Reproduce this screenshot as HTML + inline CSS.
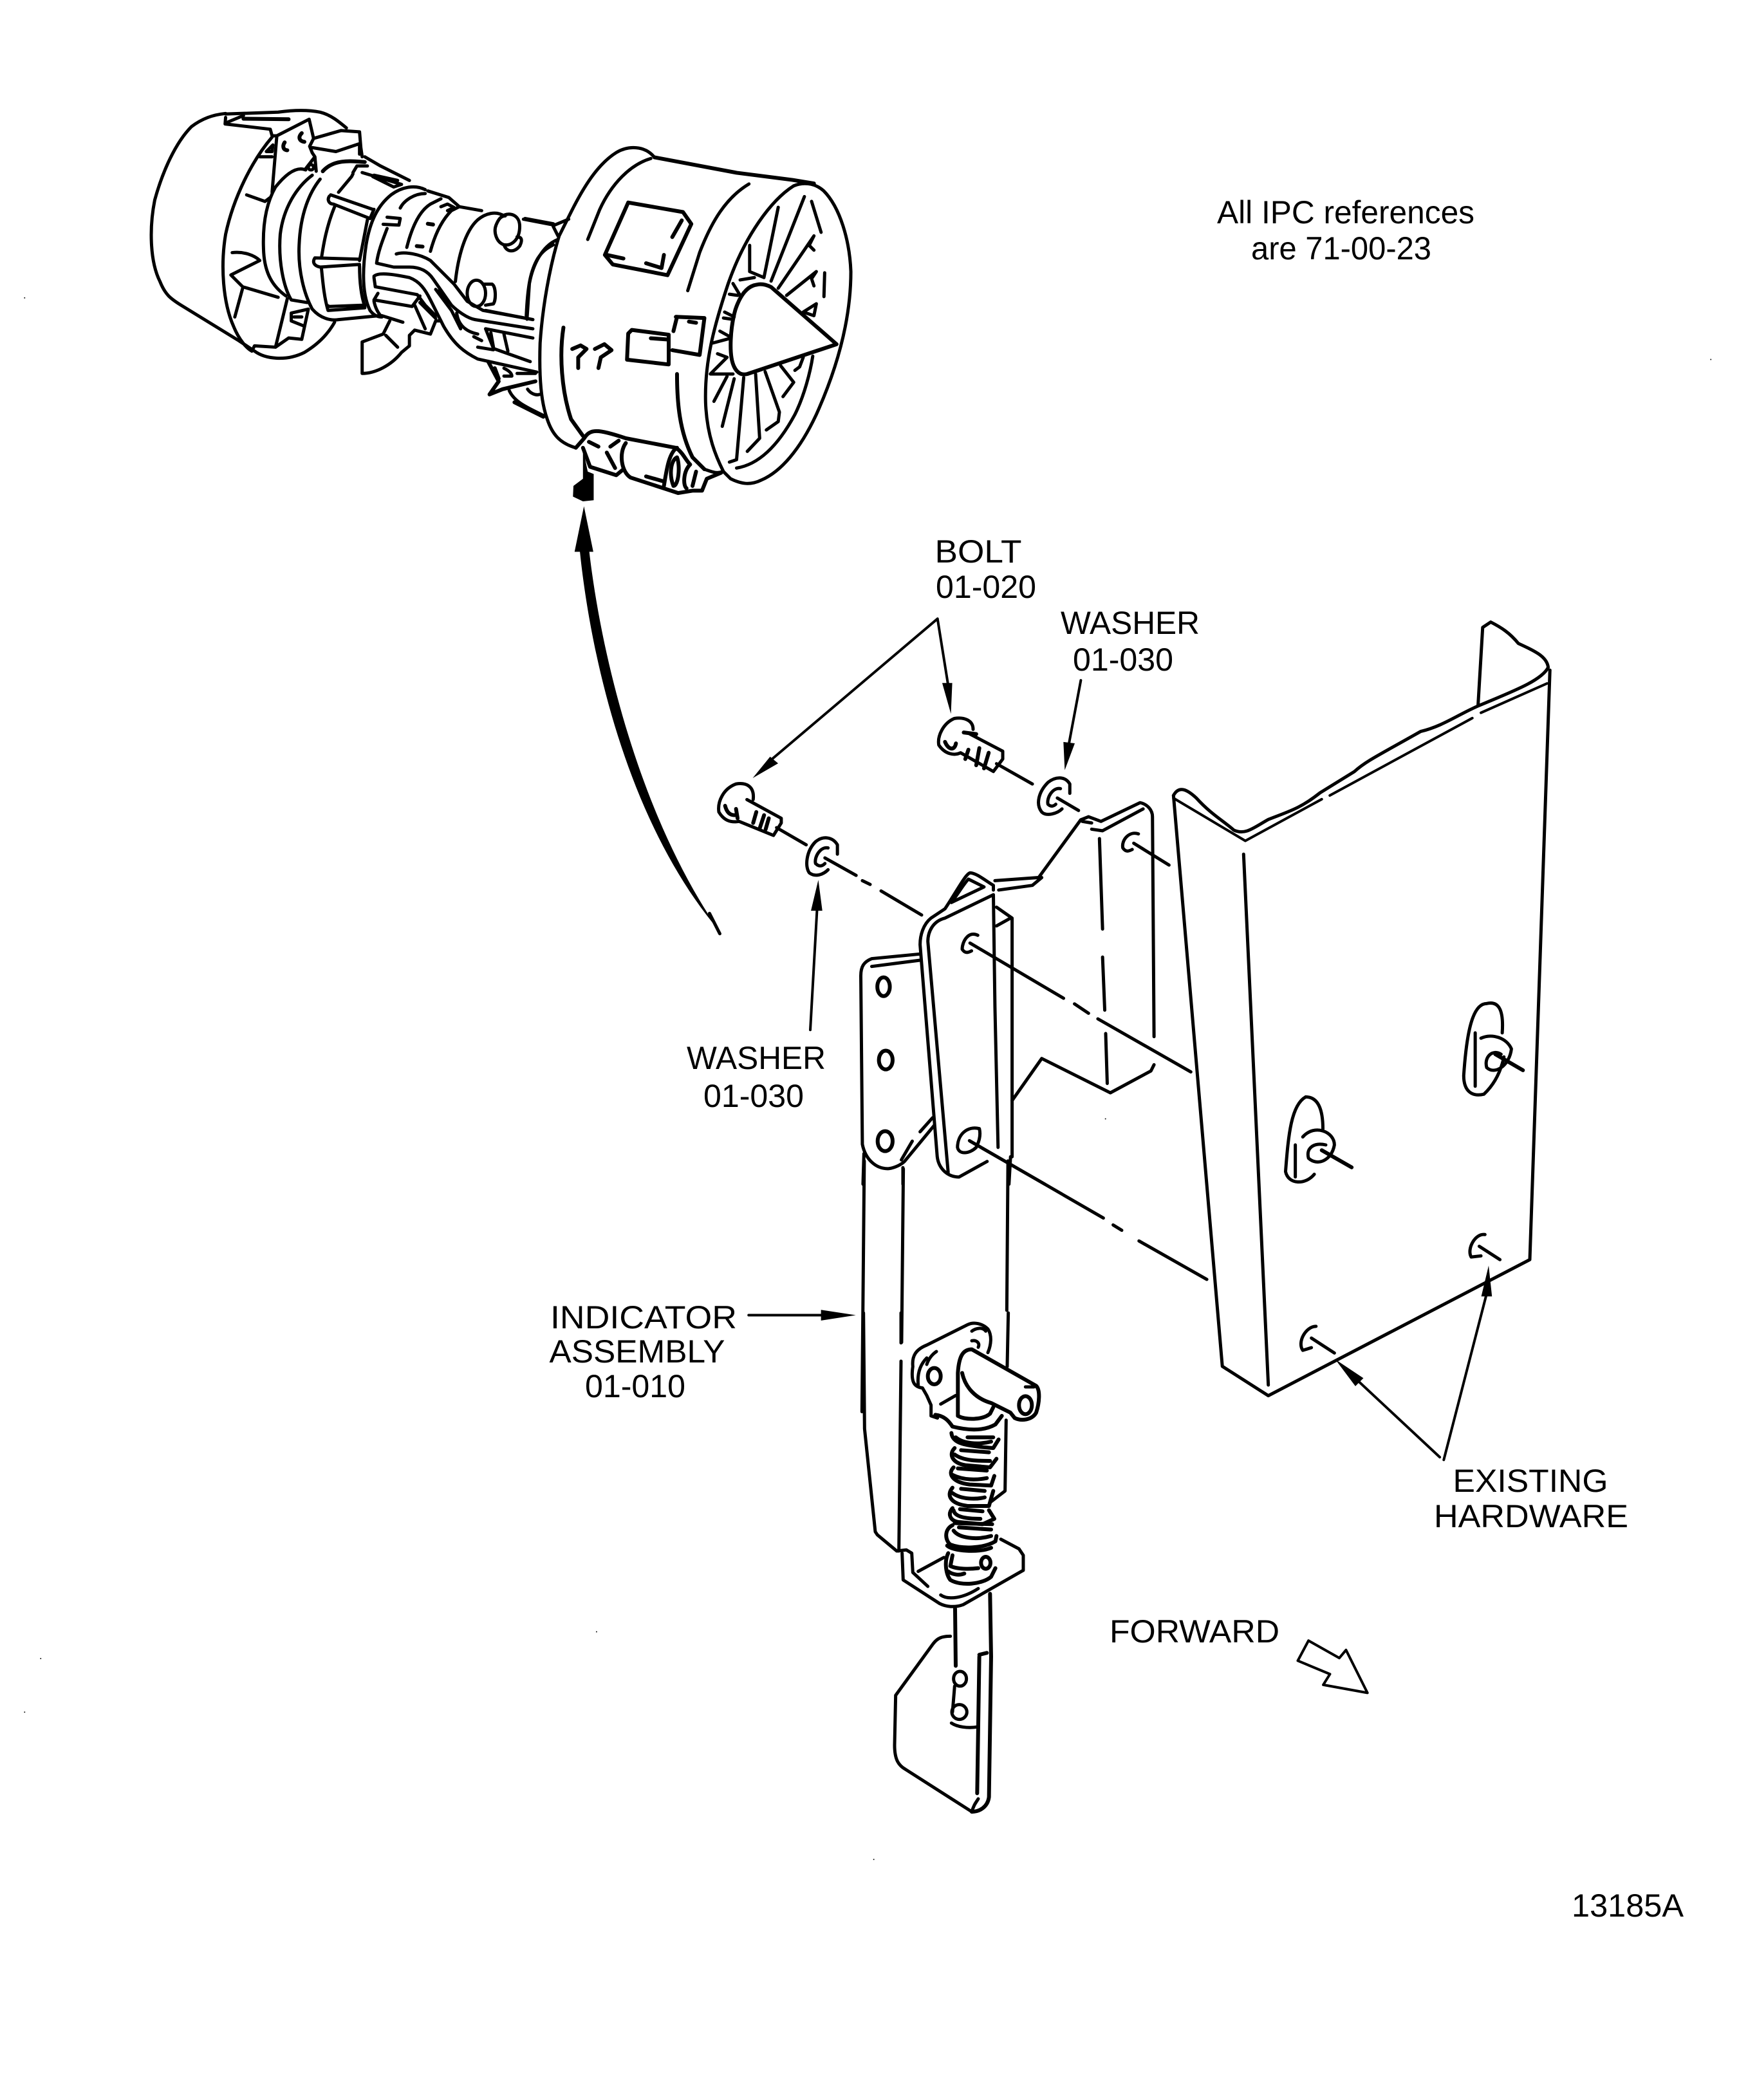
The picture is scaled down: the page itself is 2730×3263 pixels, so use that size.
<!DOCTYPE html>
<html><head><meta charset="utf-8"><style>
html,body{margin:0;padding:0;background:#fff}
svg{display:block}
path,line,ellipse,circle,polyline{fill:none;stroke:#000;stroke-width:5;vector-effect:non-scaling-stroke;stroke-linecap:round;stroke-linejoin:round}
.t{stroke-width:4}
.k{stroke-width:6}
path.f{fill:#000;stroke:none}
text{font-family:"Liberation Sans",sans-serif;font-size:50px;fill:#000;text-anchor:middle}
</style></head><body>
<svg width="2730" height="3263" viewBox="0 0 2730 3263" xmlns="http://www.w3.org/2000/svg">
<rect width="2730" height="3263" fill="#fff"/>

<!-- ENGINE REAR -->
<g transform="translate(220,160) scale(.408)">
<path d="M320,40C270,45 230,60 190,90C130,150 80,260 50,370C30,470 30,600 70,680C90,730 110,745 150,770L370,905L430,945C470,975 550,985 620,950C670,920 710,880 735,835"/>
<path d="M320,42L520,35C570,28 630,25 680,35C720,45 750,70 780,95"/>
<path d="M320,55L318,80L490,100L497,125L515,125L638,62L655,135M330,72L388,48"/>
<path class="k" d="M388,60L560,62M545,150C535,165 540,180 555,180M610,115C595,130 600,145 620,148"/>
<path d="M515,125L497,340M655,135L760,105L830,110L835,170L840,205M650,170L740,185L830,155L830,195M655,135L640,165L650,190L660,205L625,250M660,205L665,260"/>
<path d="M497,130C420,220 350,360 320,500C300,620 310,760 350,850C370,900 400,935 420,945"/>
<path d="M475,185L500,160L497,185ZM450,205L497,205"/>
<path d="M400,350L470,375L490,360M345,570C390,565 430,580 450,600L340,655L385,700L520,740M385,705L355,815M555,745L510,930L430,925L420,945M510,930L560,895L610,900L635,785L570,800L570,830L620,850M580,815L610,815"/>
<circle cx="645" cy="245" r="10"/>
<path d="M625,255C590,240 550,270 510,320C470,390 460,480 465,570C470,650 500,700 550,735"/>
<path d="M650,275C590,320 540,400 528,500C520,600 540,700 570,750L630,760"/>
<path class="k" d="M690,260C730,215 790,220 850,225"/>
<path d="M680,290C640,340 605,420 600,540C595,640 620,730 650,785C680,820 720,830 750,825L905,810"/>
<path d="M850,205L910,240L1020,295M805,265L820,240L860,240M805,270L800,280L750,340M840,265L990,310L960,320L880,280M885,275L975,295"/>
<path d="M720,350L880,405M715,355C705,370 715,385 730,385L870,440L885,405M735,395C700,480 690,560 685,590M860,445L830,600"/>
<path d="M660,590L830,595M660,590C650,605 655,620 680,625L830,615M685,630C690,680 695,740 710,790L850,780L850,770L715,775L705,770M830,620C830,680 835,730 850,775"/>
<path d="M1080,330C1040,310 990,320 950,350C900,390 870,450 855,540C840,640 840,730 870,790C885,810 900,815 915,815"/>
<path d="M985,400C1000,370 1040,345 1080,345M1010,550C1030,470 1060,410 1100,385L1140,365M1100,565C1120,490 1150,440 1180,410L1210,395L1295,410M1090,335L1170,360L1210,395M1140,395L1165,385L1190,398L1165,410"/>
<path class="k" d="M1090,460L1110,463M1048,545L1070,547"/>
<path d="M935,435L985,440L980,465L920,462M935,478C915,530 900,570 895,610L960,625L1020,625C1060,625 1090,640 1110,670L1180,770C1200,790 1240,820 1270,825L1490,860"/>
<path d="M970,575C1000,565 1060,575 1100,600L1190,690L1240,755L1300,790L1490,825"/>
<path d="M885,660C900,645 950,650 1020,665C1060,680 1080,710 1100,750L1150,850C1190,920 1230,950 1280,975L1505,1025"/>
<path d="M885,665L890,700L1050,730L1080,770L1120,810M900,725L885,750L1030,775L1060,735M885,755C890,780 900,800 915,815"/>
<path d="M1120,710L1180,790L1215,860M1135,710L1165,770M1200,800C1205,840 1230,870 1280,880M1265,890L1295,905M1310,860L1340,935L1480,985M1330,875L1340,930M1380,880L1395,945M1310,860L1490,895M1280,930L1340,940"/>
<path d="M915,810L995,835M945,830L920,880L840,910L840,1030C890,1030 950,1000 990,950L1020,925L1020,885L1040,865L1100,880L1120,830L1140,830M1040,770L1080,860M1060,760L1120,820M930,885L975,930"/>
<path class="k" d="M1320,985L1360,1060L1325,1110L1375,1090L1500,1060M1420,1140L1530,1195M1345,1010L1360,1050"/>
<path d="M1380,1010C1400,1020 1410,1030 1410,1040L1380,1040M1400,1095C1420,1140 1470,1160 1530,1190M1470,1090C1480,1105 1500,1115 1515,1110M1430,1030L1500,1030"/>
<path d="M1380,430C1350,410 1310,420 1280,445C1230,490 1205,590 1195,680"/>
<path d="M1375,430C1400,415 1440,425 1440,470C1440,520 1410,545 1380,540C1350,530 1340,490 1350,465C1360,440 1370,430 1385,430M1380,540C1390,570 1420,570 1440,545C1450,525 1450,510 1430,510"/>
<ellipse cx="1275" cy="725" rx="35" ry="50"/>
<path d="M1300,690L1335,690C1350,700 1350,750 1340,765L1310,770M1310,790L1490,825M1465,810C1470,700 1480,640 1510,590C1530,560 1550,550 1568,540M1460,440L1568,460"/>
</g>

<!-- ENGINE FRONT -->
<g transform="translate(780,200) scale(.37)">
<path d="M640,120C600,70 530,70 480,100C400,150 340,250 290,350L240,450C200,580 170,750 160,900C155,1050 165,1150 190,1220C210,1280 240,1320 310,1340"/>
<path d="M625,125C540,150 460,230 410,340L360,465"/>
<path class="k" d="M640,120L985,185L1220,215L1310,230"/>
<path d="M1225,240C1260,225 1310,225 1350,260C1420,330 1460,470 1465,600C1465,800 1410,1000 1320,1200C1250,1350 1170,1440 1090,1475C1040,1500 1000,1490 960,1470L930,1440"/>
<path d="M1225,240C1130,300 1020,450 950,650C890,830 850,980 855,1150C860,1290 900,1380 930,1440"/>
<path d="M1037,232C940,290 880,390 830,520L780,680"/>
<path class="k" d="M258,835C240,950 250,1100 290,1220L340,1290M735,1030C735,1150 745,1270 800,1380L850,1430"/>
<path d="M850,1430C880,1440 900,1450 925,1440M985,1425C1080,1410 1160,1330 1230,1200C1270,1120 1295,1020 1305,955"/>
<path class="k" d="M530,310L760,350L795,400L695,615L465,570L432,530ZM755,385L715,455M440,530L510,545M605,565L670,585L680,530"/>
<path class="k" d="M545,845L700,865L700,990L525,970L530,860ZM730,790L850,795L830,950L715,930M720,850L735,790M625,880L695,885M785,810L815,815"/>
<path class="k" d="M295,925L330,910L355,925L320,960L320,1005M390,925L430,905L460,930L415,960L405,1005"/>
<path d="M90,380L220,405L280,380M215,410L235,450M235,465C170,490 130,570 115,650L105,800"/>
<!-- blades -->
<path d="M1040,490L1040,600L1100,625M1160,330L1100,625M1270,285L1130,640M1300,305L1340,435M1310,450L1160,670M1310,450L1290,490L1310,510M1320,600L1195,700M1320,600L1300,630L1310,660M1355,605L1352,705M1320,735L1265,770L1310,785L1320,735"/>
<path class="k" d="M1070,655C1030,660 1000,700 980,760C960,830 950,950 975,1000C990,1030 1010,1035 1030,1030L1405,905L1130,665C1110,655 1090,650 1070,655Z"/>
<path d="M1000,635L1060,625M970,650L1000,700M955,695L990,700M935,770L975,790M930,795L965,800M915,850L960,875M885,900L960,880M905,945L945,960L875,1030L970,1030"/>
<path d="M945,1040L890,1145M975,1050L925,1250M1015,1045L985,1390L955,1400M1065,1030L1082,1300L1030,1355M1105,1020L1165,1190L1160,1230L1110,1265M1170,995L1225,1065L1180,1125M1265,960L1250,1000L1230,1015"/>
<!-- bottom box -->
<path class="k" d="M310,1340L345,1300C370,1260 400,1260 520,1300L730,1340C760,1360 770,1390 790,1410M340,1340L370,1420L480,1455L510,1430M365,1315L405,1335M455,1335L490,1310M440,1360L475,1425"/>
<path class="k" d="M520,1320C490,1360 500,1440 540,1465L740,1530L800,1520L840,1520L860,1470L920,1445M735,1340C700,1360 690,1440 680,1500M605,1460L675,1480M735,1380C710,1390 700,1450 720,1500C740,1500 750,1420 735,1380M790,1410C760,1440 760,1500 775,1510M815,1440L800,1500"/>
<path class="f" d="M340,1345L340,1470L300,1500L298,1545L340,1565L385,1560L385,1450L360,1440Z"/>
</g>

<!-- CHANNEL -->
<g transform="translate(1100,950) scale(.893,.829)">
<path d="M810,345L895,1415L975,1470L1430,1215L1465,110"/>
<path d="M810,345C820,325 835,335 850,350C875,380 900,395 915,410C935,420 950,405 975,390C1010,375 1030,370 1065,340L1125,300C1145,280 1175,265 1240,225C1280,215 1310,190 1345,175C1400,150 1450,130 1462,105C1460,85 1440,75 1410,60C1395,40 1380,30 1362,20L1348,30L1340,175"/>
<path class="t" d="M810,350L935,430L1068,352M1082,345L1330,200M1345,190L1460,135"/>
<path d="M932,455L975,1450"/>
<path d="M1355,735C1330,735 1320,790 1315,870C1315,900 1330,910 1350,905C1370,885 1380,860 1385,835M1355,735C1375,730 1385,745 1382,790M1335,790L1335,890M1345,800C1365,790 1390,800 1398,820C1395,850 1370,870 1355,855C1350,835 1365,820 1380,830"/>
<path d="M1040,910C1015,925 1010,980 1005,1050C1010,1075 1040,1075 1055,1055M1040,910C1060,910 1070,930 1070,970M1022,1000L1022,1060M1035,985C1055,960 1090,975 1090,1000C1085,1030 1060,1040 1045,1025C1040,1005 1055,995 1075,1000"/>
<path class="k" d="M1068,1010L1120,1042M1370,830L1418,860"/>
<path d="M1352,1168C1335,1165 1320,1195 1328,1210L1345,1208M1342,1190L1378,1215"/>
<path d="M1058,1340C1040,1340 1025,1370 1035,1385L1050,1380M1050,1362L1090,1390"/>
<path d="M455,992L688,1137M705,1150L720,1160M750,1180L868,1252"/>
<path d="M272,1030L268,1500M340,1045L337,1370M522,1030L520,1310"/>
</g>

<!-- BRACKET / BOLTS -->
<g transform="translate(1100,1080) scale(.4847)">
<path d="M145,335C150,290 120,280 90,285C50,300 30,340 35,375C50,400 70,410 100,405L210,450L235,410L235,395L125,335"/>
<path class="k" d="M55,355C60,375 70,385 85,385M90,365L95,395M155,375L145,410M180,385L165,430M195,395L185,430"/>
<path d="M220,425L315,480"/>
<path d="M850,110C850,80 820,70 790,75C755,90 735,130 740,160C760,190 790,195 810,185L915,245L945,205L945,180L840,125"/>
<path class="k" d="M760,150C770,175 790,180 795,155M835,175L825,205M870,170L860,225M900,185L885,235M820,120L860,125"/>
<path d="M925,220L1040,285"/>
<path d="M415,510L415,480C400,455 370,450 345,470C315,500 310,550 325,570C345,585 370,575 385,560M385,490C360,485 340,520 345,540C355,550 365,550 375,540"/>
<path d="M1160,315L1160,285C1145,260 1115,260 1090,280C1060,310 1050,350 1070,375C1085,390 1120,380 1135,365M1130,300C1105,295 1085,330 1090,350C1100,360 1110,355 1115,350"/>
<path d="M375,522L475,578M495,595L520,607M555,628L685,705M1120,330L1188,370"/>
<path d="M915,625L915,610C890,595 860,570 840,570C825,575 800,625 760,685L715,715C690,735 680,770 680,800L735,1480C740,1520 770,1545 805,1545L895,1495"/>
<path d="M915,640L760,715C720,725 705,760 705,790L770,1530M915,640L920,1000L930,1450M835,590C820,605 800,640 780,665L885,615L835,590M925,680L975,715L975,1480M925,740L970,715M970,1480L965,1568"/>
<path d="M920,595L1060,585L1195,400L1220,390L1260,405L1385,345C1410,350 1425,370 1425,390L1430,1095M932,625L1040,610L1070,585M1200,405L1230,410M1230,430L1265,435L1395,365"/>
<path d="M1255,460L1265,750M1265,840L1272,1010M1275,1085L1280,1245M975,1300L1070,1165L1290,1275L1420,1205L1430,1185"/>
<path d="M865,770C835,755 815,790 815,815C825,830 835,825 845,820M840,795L1140,972M1175,990L1220,1020M1250,1038L1548,1208"/>
<path d="M870,1390C830,1380 800,1410 800,1450C805,1475 840,1470 860,1450C870,1430 875,1410 870,1390M840,1430L1080,1568"/>
<path d="M1380,445C1350,435 1325,465 1330,490C1340,505 1350,500 1360,495M1365,475L1478,545"/>
<path d="M680,830L525,845C500,855 490,870 490,900L495,1440C505,1490 540,1520 580,1518C600,1515 620,1505 630,1495L725,1380M680,850L525,870M620,1490L655,1430M680,1400L720,1355"/>
<ellipse class="k" cx="563" cy="935" rx="20" ry="30"/>
<ellipse class="k" cx="570" cy="1170" rx="22" ry="30"/>
<ellipse class="k" cx="568" cy="1430" rx="24" ry="32"/>
<path d="M500,1470L497,1568M625,1515L625,1568M5,700L38,765"/>
</g>

<!-- LATCH UPPER -->
<g transform="translate(1340,2040) scale(.3333)">
<path d="M235,250C230,200 250,170 300,150L490,55C520,40 560,50 585,75C605,105 600,150 585,185M235,250C225,320 240,345 280,350L300,385L320,430L320,480L350,490"/>
<path d="M300,240C310,210 330,190 345,180M260,335C255,280 270,240 300,210M510,85C530,70 560,65 575,85M510,130C530,125 550,140 540,160"/>
<ellipse class="k" cx="335" cy="295" rx="30" ry="38"/>
<path class="k" d="M445,280C450,200 470,170 510,170L810,340C830,360 825,420 810,465C790,500 740,505 710,490L690,465L600,420C530,400 480,350 465,280M445,280L445,480C480,500 560,500 595,470L610,440"/>
<ellipse class="k" cx="760" cy="430" rx="30" ry="42"/>
<path d="M760,345L800,345M365,425L435,385"/>
<path d="M680,0L675,250M670,500L665,830L600,880M5,0L10,540L60,1020L70,1035L160,1110L205,1105L230,1120L235,1210L305,1275M180,0L180,140M180,225L170,1110M185,1120L190,1245L360,1355C390,1370 430,1375 470,1360L750,1200L750,1130L730,1100L645,1055M260,1205L380,1140M365,1315C400,1340 470,1330 540,1285"/>
<path class="k" d="M340,475C380,480 400,500 420,530C480,545 560,555 620,520L650,480"/>
<path class="k" d="M415,560C420,610 480,620 610,630L635,590M435,580C470,610 540,615 600,600M490,580L610,580"/>
<path class="k" d="M430,630C400,660 420,700 480,710L595,720L625,680M430,660C470,690 540,690 595,690M460,640L590,650"/>
<path class="k" d="M425,720C395,750 420,790 500,800L600,805L615,760M420,755C470,780 530,780 580,770M445,725L580,735"/>
<path class="k" d="M420,815C390,850 410,890 490,900L590,900L610,830M420,840C460,870 530,870 570,860M460,820L570,830"/>
<path class="k" d="M420,910C395,940 410,970 450,975L560,985L615,960L590,920M425,920C430,950 480,960 550,960M455,915L560,925"/>
<path class="k" d="M420,990C380,1010 385,1060 410,1080C460,1100 560,1100 620,1065L625,1040M425,1015C450,1050 530,1060 600,1040M450,1000L600,1010M430,980L605,985"/>
<path class="k" d="M395,1085C420,1110 540,1120 600,1095M400,1120C380,1160 390,1220 410,1245C460,1275 560,1265 600,1230L620,1190M420,1130L410,1180C440,1195 500,1195 540,1190M400,1205C420,1220 450,1225 475,1215"/>
<ellipse class="k" cx="575" cy="1165" rx="22" ry="28"/>
</g>

<!-- LATCH LOWER -->
<g transform="translate(1300,2000) scale(.3333,.574)">
<path class="k" d="M552,870L555,1025M715,830L720,1000L710,1380C705,1405 670,1420 630,1420M665,995L700,990M665,1000L655,1370"/>
<path d="M530,945C490,945 470,950 450,965L275,1105L270,1240C270,1280 290,1295 320,1305L630,1420C640,1400 650,1395 660,1385"/>
<ellipse cx="575" cy="1060" rx="30" ry="20"/>
<ellipse cx="572" cy="1150" rx="35" ry="20"/>
<path d="M535,1180C560,1190 610,1195 660,1190M550,1080L540,1150"/>
</g>

<!-- ARROWS -->
<g transform="scale(2.081)">
<path class="f" d="M436,378L429,412L433,412C440,480 465,610 537,695C478,610 449,490 440,412L443,412Z"/>
<path class="t" d="M700,462L575,568M700,462L708,512M807,508L798,556M605,769L610,680M559,982L615,982M1075,1088L1015,1032M1078,1090L1110,966"/>
<path class="f" d="M562,581L575,565L581,570ZM710,533L703.5,510L711,510ZM795,575L794,554L802.5,555ZM611,657L605.5,680L614,680ZM639,982L613,978L613,986ZM997,1015L1012,1035L1018,1029ZM1111.5,945L1106,968L1114,968Z"/>
<path class="t" d="M969,1240L977,1225L1000,1238L1005,1232L1021,1264L988,1258L993,1250Z"/>
<g fill="#000">
<rect x="18" y="222" width=".8" height=".8"/><rect x="1277" y="268" width=".8" height=".8"/><rect x="825" y="835" width=".8" height=".8"/><rect x="445" y="1218" width=".8" height=".8"/><rect x="30" y="1238" width=".8" height=".8"/><rect x="18" y="1278" width=".8" height=".8"/><rect x="652" y="1388" width=".8" height=".8"/>
</g>
</g>

<!-- TEXT -->
<text x="2091" y="347" textLength="400" lengthAdjust="spacingAndGlyphs">All IPC references</text>
<text x="2084" y="403" textLength="280" lengthAdjust="spacingAndGlyphs">are 71-00-23</text>
<text x="1520" y="874" textLength="135" lengthAdjust="spacingAndGlyphs">BOLT</text>
<text x="1532" y="929" textLength="156" lengthAdjust="spacingAndGlyphs">01-020</text>
<text x="1756" y="985" textLength="216" lengthAdjust="spacingAndGlyphs">WASHER</text>
<text x="1745" y="1042" textLength="156" lengthAdjust="spacingAndGlyphs">01-030</text>
<text x="1175" y="1661" textLength="216" lengthAdjust="spacingAndGlyphs">WASHER</text>
<text x="1171" y="1720" textLength="156" lengthAdjust="spacingAndGlyphs">01-030</text>
<text x="1000" y="2064" textLength="290" lengthAdjust="spacingAndGlyphs">INDICATOR</text>
<text x="990" y="2117" textLength="273" lengthAdjust="spacingAndGlyphs">ASSEMBLY</text>
<text x="987" y="2171" textLength="156" lengthAdjust="spacingAndGlyphs">01-010</text>
<text x="2378" y="2318" textLength="241" lengthAdjust="spacingAndGlyphs">EXISTING</text>
<text x="2379" y="2373" textLength="302" lengthAdjust="spacingAndGlyphs">HARDWARE</text>
<text x="1856" y="2552" textLength="264" lengthAdjust="spacingAndGlyphs">FORWARD</text>
<text x="2529" y="2978" textLength="174" lengthAdjust="spacingAndGlyphs">13185A</text>
</svg>
</body></html>
